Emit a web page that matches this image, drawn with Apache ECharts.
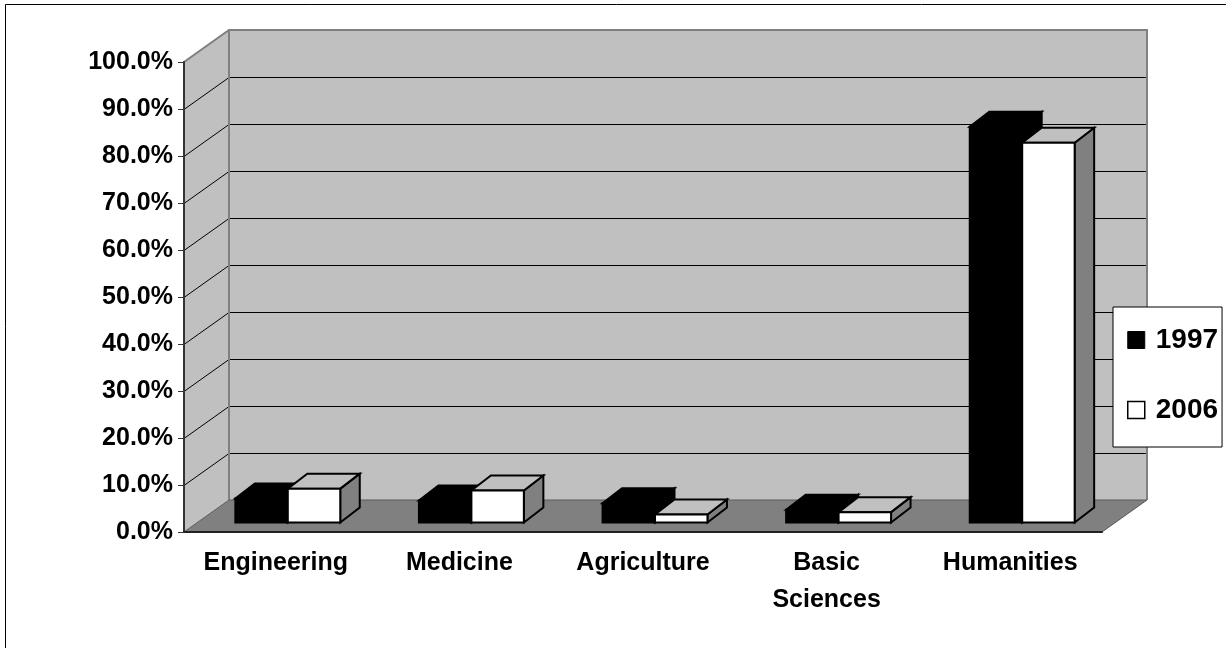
<!DOCTYPE html>
<html>
<head>
<meta charset="utf-8">
<script src="https://cdn.jsdelivr.net/npm/echarts@6/dist/echarts.min.js"></script>
<style>
  html, body { margin: 0; padding: 0; background: #fff; }
  #chart { width: 1226px; height: 648px; }
</style>
</head>
<body>
<div id="chart"></div>
<script>
// Share of graduates by field, 1997 vs 2006
const categories = ['Engineering', 'Medicine', 'Agriculture', 'Basic\nSciences', 'Humanities'];
const share1997 = [5.1, 4.7, 4.1, 2.7, 84.2];
const share2006 = [7.2, 6.8, 1.7, 2.2, 80.8];
const valueTicks = [0, 10, 20, 30, 40, 50, 60, 70, 80, 90, 100];
const seriesNames = ['1997', '2006'];

const FONT = '"Liberation Sans", Arial, sans-serif';

// Oblique projection offsets for the 3-D look
const WALL_DX = 45, WALL_DY = 32;          // depth of the floor / side wall
const BAR_SHIFT_X = 12, BAR_SHIFT_Y = 9.5; // bars sit a little behind the front edge
const BAR_DX = 19.5, BAR_DY = 15;          // depth of each bar

const faceStyles = [
  { front: '#000000', top: '#000000', side: '#000000' },
  { front: '#ffffff', top: '#c0c0c0', side: '#808080' }
];

function makeBarRenderer(idx) {
  return function (params, api) {
    const cat = api.value(0);
    const val = api.value(1);
    const slot = api.size([1, 0])[0];
    const w = slot / 3.5;                // gap width 150%
    const base0 = api.coord([cat, 0]);
    const topPt = api.coord([cat, val]);
    const x0 = base0[0] - w + idx * w + BAR_SHIFT_X;
    const x1 = x0 + w;
    const base = base0[1] - BAR_SHIFT_Y;
    const top = topPt[1] - BAR_SHIFT_Y;
    const f = faceStyles[idx];
    const stroke = { stroke: '#000', lineWidth: 2, lineJoin: 'miter' };
    return {
      type: 'group',
      children: [
        { type: 'polygon',
          shape: { points: [[x1, top], [x1 + BAR_DX, top - BAR_DY], [x1 + BAR_DX, base - BAR_DY], [x1, base]] },
          style: Object.assign({ fill: f.side }, stroke) },
        { type: 'polygon',
          shape: { points: [[x0, top], [x1, top], [x1 + BAR_DX, top - BAR_DY], [x0 + BAR_DX, top - BAR_DY]] },
          style: Object.assign({ fill: f.top }, stroke) },
        { type: 'rect',
          shape: { x: x0, y: top, width: w, height: base - top },
          style: Object.assign({ fill: f.front }, stroke) }
      ]
    };
  };
}

function renderWalls(params, api) {
  const cs = params.coordSys;
  const L = cs.x, R = cs.x + cs.width, T = cs.y, B = cs.y + cs.height;
  const children = [];
  // back wall
  children.push({ type: 'polygon',
    shape: { points: [[L + WALL_DX, T - WALL_DY], [R + WALL_DX, T - WALL_DY], [R + WALL_DX, B - WALL_DY], [L + WALL_DX, B - WALL_DY]] },
    style: { fill: '#c0c0c0', stroke: 'none' } });
  // left side wall
  children.push({ type: 'polygon',
    shape: { points: [[L, T], [L + WALL_DX, T - WALL_DY], [L + WALL_DX, B - WALL_DY], [L, B]] },
    style: { fill: '#c0c0c0', stroke: 'none' } });
  // gridlines on both walls (half-pixel offset keeps them crisp)
  valueTicks.forEach(function (v) {
    if (v === 0 || v === 100) return;
    const y = Math.round(api.coord([0, v])[1]) + 0.5;
    children.push({ type: 'polyline',
      shape: { points: [[L, y], [L + WALL_DX, y - WALL_DY], [R + WALL_DX, y - WALL_DY]] },
      style: { stroke: '#000', lineWidth: 1, fill: 'none' } });
  });
  // wall edges
  children.push({ type: 'polyline',
    shape: { points: [[L, T], [L + WALL_DX, T - WALL_DY], [R + WALL_DX, T - WALL_DY], [R + WALL_DX, B - WALL_DY]] },
    style: { stroke: '#808080', lineWidth: 2, fill: 'none' } });
  children.push({ type: 'line',
    shape: { x1: L + WALL_DX, y1: T - WALL_DY, x2: L + WALL_DX, y2: B - WALL_DY },
    style: { stroke: '#808080', lineWidth: 2 } });
  // floor
  children.push({ type: 'polygon',
    shape: { points: [[L, B], [R, B], [R + WALL_DX, B - WALL_DY], [L + WALL_DX, B - WALL_DY]] },
    style: { fill: '#808080', stroke: '#5a5a5a', lineWidth: 1 } });
  return { type: 'group', children: children };
}

const chart = echarts.init(document.getElementById('chart'), null, { renderer: 'canvas' });

chart.setOption({
  animation: false,
  backgroundColor: '#ffffff',
  graphic: [{
    type: 'rect', z: 0, silent: true,
    shape: { x: 5.5, y: 4.5, width: 1400, height: 800 },
    style: { fill: 'none', stroke: '#000', lineWidth: 1 }
  }],
  grid: { left: 184, top: 62, width: 918, height: 470 },
  legend: {
    orient: 'vertical',
    left: 1113, top: 307,
    padding: [19, 4, 23, 14],
    itemGap: 42,
    itemWidth: 17, itemHeight: 17,
    icon: 'rect',
    backgroundColor: '#ffffff',
    borderColor: '#000', borderWidth: 1,
    textStyle: { fontFamily: FONT, fontSize: 28, fontWeight: 'bold', color: '#000', lineHeight: 28, padding: [0, 0, 0, 6] },
    data: [
      { name: seriesNames[0], itemStyle: { color: '#000', borderColor: '#000', borderWidth: 1 } },
      { name: seriesNames[1], itemStyle: { color: '#fff', borderColor: '#000', borderWidth: 1.5 } }
    ]
  },
  xAxis: {
    type: 'category',
    data: categories,
    z: 5,
    axisLine: { lineStyle: { color: '#222', width: 2 } },
    axisTick: { length: 7, lineStyle: { color: '#222', width: 1 } },
    axisLabel: { interval: 0, margin: 13, fontFamily: FONT, fontSize: 25, fontWeight: 'bold', color: '#000', lineHeight: 37 },
    splitLine: { show: false }
  },
  yAxis: {
    type: 'value',
    min: 0, max: 100, interval: 10,
    z: 5,
    axisLine: { show: true, lineStyle: { color: '#333', width: 2 } },
    axisTick: { show: true, length: 6, lineStyle: { color: '#333', width: 1 } },
    axisLabel: { margin: 11, fontFamily: FONT, fontSize: 25, fontWeight: 'bold', color: '#000',
      formatter: function (v) { return v.toFixed(1) + '%'; } },
    splitLine: { show: false }
  },
  series: [
    { type: 'custom', name: 'walls', z: 1, silent: true, renderItem: renderWalls, data: [[0, 0]] },
    { type: 'custom', name: seriesNames[0], z: 2, renderItem: makeBarRenderer(0),
      itemStyle: { color: '#000' },
      data: share1997.map(function (v, i) { return [i, v]; }) },
    { type: 'custom', name: seriesNames[1], z: 2, renderItem: makeBarRenderer(1),
      itemStyle: { color: '#fff', borderColor: '#000' },
      data: share2006.map(function (v, i) { return [i, v]; }) }
  ]
});
</script>
</body>
</html>
